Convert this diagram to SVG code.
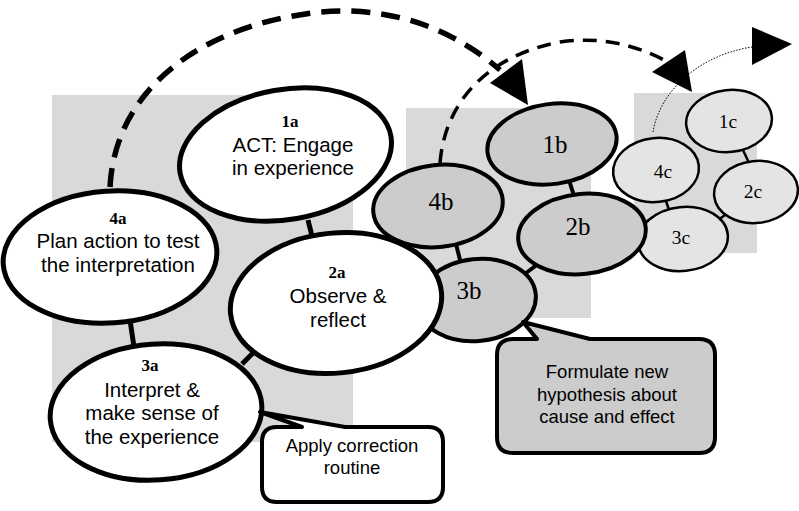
<svg xmlns="http://www.w3.org/2000/svg" width="799" height="511" viewBox="0 0 799 511">
  <defs>
    <style>
      .panel { fill: #d9d9d9; }
      .ea { fill: #ffffff; stroke: #000; stroke-width: 5; }
      .eb { fill: #cccccc; stroke: #000; stroke-width: 4; }
      .ec { fill: #e4e4e4; stroke: #000; stroke-width: 2.5; }
      .la { stroke: #000; stroke-width: 5; fill: none; }
      .lb { stroke: #000; stroke-width: 4; fill: none; }
      .lc { stroke: #000; stroke-width: 2.5; fill: none; }
      .num { font-family: "Liberation Serif", serif; font-weight: bold; font-size: 17px; text-anchor: middle; }
      .txt { font-family: "Liberation Sans", Arial, sans-serif; font-size: 20.5px; text-anchor: middle; }
      .tb { font-family: "Liberation Serif", serif; font-size: 25px; text-anchor: middle; }
      .tc { font-family: "Liberation Serif", serif; font-size: 19.5px; text-anchor: middle; }
      .call { font-family: "Liberation Sans", Arial, sans-serif; font-size: 18.5px; text-anchor: middle; }
      .head { fill: #000; }
    </style>
  </defs>

  <!-- background panels -->
  <rect class="panel" x="52" y="95" width="301" height="347"/>
  <rect class="panel" x="406" y="108" width="185" height="210"/>
  <rect class="panel" x="634" y="93" width="123" height="160"/>

  <!-- links between stages -->
  <g id="connectors">
    <line class="la" x1="308" y1="220" x2="313" y2="240"/>
    <line class="la" x1="130" y1="320" x2="134" y2="347"/>
    <line class="la" x1="242" y1="364" x2="256" y2="350"/>
    <line class="lb" x1="569" y1="180" x2="575" y2="199"/>
    <line class="lb" x1="456" y1="244" x2="461" y2="264"/>
    <line class="lb" x1="522" y1="276" x2="538" y2="264"/>
    <line class="lc" x1="742" y1="148" x2="750" y2="165"/>
    <line class="lc" x1="665" y1="198" x2="669" y2="210"/>
    <line class="lc" x1="718" y1="220" x2="728" y2="213"/>
    <line class="lc" x1="643" y1="224" x2="653" y2="217"/>
  </g>

  <!-- third cycle -->
  <g id="node-1c">
    <ellipse class="ec" cx="729" cy="121" rx="43" ry="31" transform="rotate(-6 729 121)"/>
    <text class="tc" x="728" y="128">1c</text>
  </g>
  <g id="node-4c">
    <ellipse class="ec" cx="656" cy="170" rx="43" ry="32" transform="rotate(-6 656 170)"/>
    <text class="tc" x="663" y="178">4c</text>
  </g>
  <g id="node-2c">
    <ellipse class="ec" cx="756" cy="192" rx="42" ry="31" transform="rotate(-6 756 192)"/>
    <text class="tc" x="753" y="198">2c</text>
  </g>
  <g id="node-3c">
    <ellipse class="ec" cx="683" cy="239" rx="45" ry="32" transform="rotate(-6 683 239)"/>
    <text class="tc" x="681" y="244">3c</text>
  </g>

  <!-- second cycle -->
  <g id="node-3b">
    <ellipse class="eb" cx="477" cy="300" rx="59" ry="41" transform="rotate(-6 477 300)"/>
    <text class="tb" x="469" y="299">3b</text>
  </g>
  <g id="node-1b">
    <ellipse class="eb" cx="552" cy="144" rx="65" ry="40" transform="rotate(-8 552 144)"/>
    <text class="tb" x="555" y="153">1b</text>
  </g>
  <g id="node-4b">
    <ellipse class="eb" cx="438" cy="206" rx="65" ry="41" transform="rotate(-6 438 206)"/>
    <text class="tb" x="441" y="210">4b</text>
  </g>
  <g id="node-2b">
    <ellipse class="eb" cx="582" cy="234" rx="64" ry="40" transform="rotate(-6 582 234)"/>
    <text class="tb" x="578" y="235">2b</text>
  </g>

  <!-- first cycle -->
  <g id="node-1a">
    <ellipse class="ea" cx="285.5" cy="154.5" rx="107" ry="65" transform="rotate(-10 285.5 154.5)"/>
    <text class="num" x="290" y="127">1a</text>
    <text class="txt" x="293" y="152">ACT: Engage</text>
    <text class="txt" x="293" y="175">in experience</text>
  </g>
  <g id="node-4a">
    <ellipse class="ea" cx="110" cy="257" rx="107" ry="66" transform="rotate(-4 110 257)"/>
    <text class="num" x="118" y="224">4a</text>
    <text class="txt" x="118" y="248">Plan action to test</text>
    <text class="txt" x="118" y="272">the interpretation</text>
  </g>
  <g id="node-2a">
    <ellipse class="ea" cx="336" cy="303" rx="106" ry="70" transform="rotate(-6 336 303)"/>
    <text class="num" x="337" y="278">2a</text>
    <text class="txt" x="338" y="303">Observe &amp;</text>
    <text class="txt" x="338" y="327">reflect</text>
  </g>
  <g id="node-3a">
    <ellipse class="ea" cx="156" cy="412" rx="106" ry="68" transform="rotate(-4 156 412)"/>
    <text class="num" x="150" y="371">3a</text>
    <text class="txt" x="152" y="397">Interpret &amp;</text>
    <text class="txt" x="152" y="420">make sense of</text>
    <text class="txt" x="152" y="444">the experience</text>
  </g>

  <!-- callouts -->
  <g id="callout-correction">
    <path d="M277,427 L302,427 L260,412 L345,427 L428,427 Q443,427 443,442 L443,487 Q443,502 428,502 L277,502 Q262,502 262,487 L262,442 Q262,427 277,427 Z" fill="#ffffff" stroke="#000" stroke-width="4" stroke-linejoin="round"/>
    <text class="call" x="352" y="452">Apply correction</text>
    <text class="call" x="352" y="474">routine</text>
  </g>
  <g id="callout-hypothesis">
    <path d="M513,339 L537,339 L523,322 L590,339 L699,339 Q715,339 715,355 L715,437 Q715,453 699,453 L513,453 Q497,453 497,437 L497,355 Q497,339 513,339 Z" fill="#cccccc" stroke="#000" stroke-width="4" stroke-linejoin="round"/>
    <text class="call" x="607" y="378">Formulate new</text>
    <text class="call" x="607" y="401">hypothesis about</text>
    <text class="call" x="607" y="423">cause and effect</text>
  </g>

  <!-- cycle-to-cycle arrows -->
  <g id="arrows">
    <path d="M110,187 C115,90 200,25 320,12 C400,5 460,35 500,70" fill="none" stroke="#000" stroke-width="5.5" stroke-dasharray="19 11"/>
    <polygon class="head" points="490,83 522,59 528,105"/>
    <path d="M440,163 C445,100 490,55 560,42 C610,35 645,50 668,62" fill="none" stroke="#000" stroke-width="3.5" stroke-dasharray="14 9"/>
    <polygon class="head" points="652,72 685,50 692,92"/>
    <path d="M653,132 C660,90 700,55 752,47" fill="none" stroke="#000" stroke-width="1" stroke-dasharray="1.5 1.5"/>
    <polygon class="head" points="752,27 792,44 752,65"/>
  </g>
</svg>
